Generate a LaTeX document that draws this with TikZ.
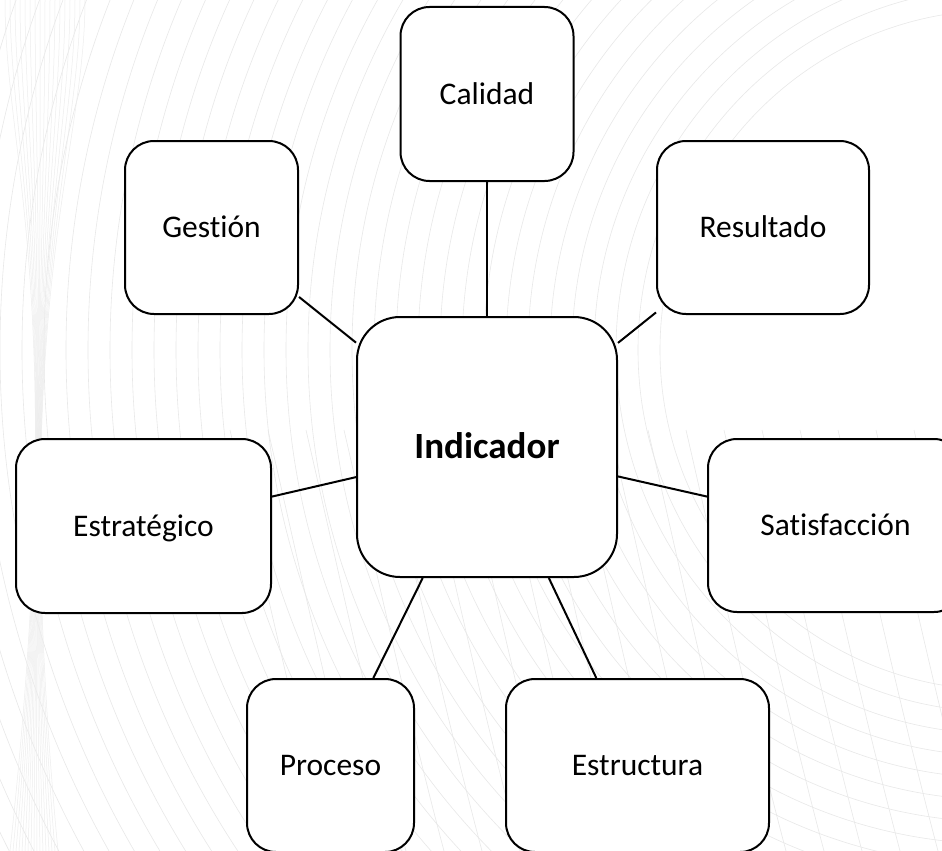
\documentclass[tikz,border=0pt]{standalone}
\usepackage{fontspec}
\setmainfont{Carlito}[Ligatures={NoCommon}]
\tikzset{
  bgline/.style={draw=black!9, line width=0.6pt},
  smallbox/.style={draw, line width=2pt, fill=white, rectangle, rounded corners=29pt,
    inner sep=0pt, font=\fontsize{31.5}{37}\selectfont, text height=20pt, text depth=0pt},
  bigbox/.style={draw, line width=2pt, fill=white, rectangle, rounded corners=43pt,
    inner sep=0pt, font=\fontsize{37}{44}\selectfont\bfseries, text height=23.5pt, text depth=0pt,
    minimum width=260pt, minimum height=260pt},
  link/.style={draw, line width=2pt}
}
\begin{document}
\begin{tikzpicture}[x=1pt,y=-1pt]
\useasboundingbox (0,0) rectangle (942,851);
\fill[white] (0,0) rectangle (942,851);
% faint decorative background
\begin{scope}
\clip (0,0) rectangle (942,851);
\foreach \r in {340,362,...,1160} {
  \draw[bgline] (1000,350) circle [radius=\r];
}
\foreach \x in {230,268,...,960} {
  \draw[bgline] (\x,430) .. controls (\x+30,560) and (\x+60,700) .. (\x+100,851);
}
\foreach \i in {0,...,16} {
  \draw[draw=black!7, line width=0.5pt] (5+5*\i,0) .. controls (5+5*\i,160) and (70-4*\i,300) .. (10+3*\i,851);
}
\end{scope}
% nodes
\node[bigbox] (ind) at (487,447) {Indicador};
\node[smallbox, minimum width=173pt, minimum height=174pt] (cal) at (487,94) {Calidad};
\node[smallbox, minimum width=173pt, minimum height=173pt] (ges) at (211.5,227.5) {Gestión};
\node[smallbox, minimum width=212pt, minimum height=173pt] (res) at (763,227.5) {Resultado};
\node[smallbox, minimum width=255pt, minimum height=174pt] (est) at (143.5,526) {Estratégico};
\node[smallbox, minimum width=255pt, minimum height=173pt] (sat) at (835.5,525.5) {Satisfacción};
\node[smallbox, minimum width=167pt, minimum height=173pt] (pro) at (330.5,765.5) {Proceso};
\node[smallbox, minimum width=263pt, minimum height=173pt] (estr) at (637.5,765.5) {Estructura};
% connectors
\draw[link] (ind) -- (cal);
\draw[link] (ind) -- (ges);
\draw[link] (ind) -- (res);
\draw[link] (ind) -- (est);
\draw[link] (ind) -- (sat);
\draw[link] (ind) -- (pro);
\draw[link] (ind) -- (estr);
\end{tikzpicture}
\end{document}
